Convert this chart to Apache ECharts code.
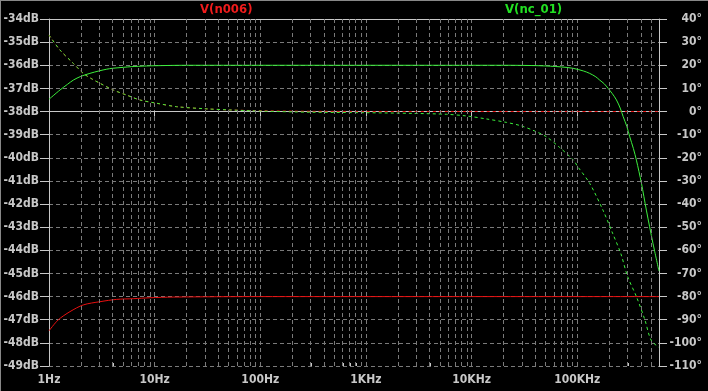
<!DOCTYPE html>
<html>
<head>
<meta charset="utf-8">
<script src="https://cdn.jsdelivr.net/npm/echarts@6/dist/echarts.min.js"></script>
<style>
html,body{margin:0;padding:0;background:#000;}
#chart{width:708px;height:391px;}
</style>
</head>
<body>
<div id="chart"></div>
<script>
// ---- data ----
const freqTickLabels = ['1Hz', '10Hz', '100Hz', '1KHz', '10KHz', '100KHz'];
const freqMin = 1;
const freqMax = 594000;
const gridMantissas = [2, 3, 4, 5, 6, 7, 8, 9];

const redMagFreq = [1, 1.22, 1.58, 2.11, 3.04, 4.37, 6.27, 9, 15, 100, 1000, 10000, 100000, 594000];
const redMagDb   = [-47.48, -47.01, -46.65, -46.36, -46.22, -46.12, -46.09, -46.05, -46.02, -46, -46, -46, -46, -46];

const redPhaseFreq = [1, 1.27, 1.7, 2.11, 2.5, 3.04, 4.06, 5.44, 7.26, 10.4, 16.1, 30, 51, 100, 300, 1000, 10000, 100000, 594000];
const redPhaseDeg  = [33.1, 26.6, 20.8, 16.5, 14.3, 12.2, 9.3, 7.1, 5.0, 3.6, 2.1, 1.2, 0.7, 0.35, 0.12, 0.04, 0, 0, 0];

const greenMagFreq = [1, 1.27, 1.5, 1.7, 2, 2.44, 3, 3.52, 4, 5.05, 6, 8.4, 10, 20, 100, 1000, 10000, 20000, 44200, 70000, 91000, 115000, 131000, 150000, 163000, 180000, 196000, 215000, 235000, 255000, 272000, 295000, 314000, 340000, 363000, 405000, 451000, 521000, 594000];
const greenMagDb   = [-37.47, -37.07, -36.82, -36.64, -36.48, -36.35, -36.24, -36.17, -36.13, -36.09, -36.06, -36.03, -36.02, -36.0, -36.0, -36.0, -36.0, -36.0, -36.02, -36.07, -36.13, -36.25, -36.35, -36.5, -36.64, -36.8, -37.0, -37.23, -37.5, -37.85, -38.22, -38.65, -39.09, -39.6, -40.1, -41.1, -42.26, -43.7, -44.9];

const greenPhaseFreq = [1, 1.27, 1.7, 2.11, 2.5, 3.04, 4.06, 5.44, 7.26, 10.4, 16.1, 30, 51, 100, 300, 1000, 2800, 5800, 8900, 13800, 21400, 29000, 39000, 51000, 68000, 92000, 101000, 131000, 175000, 216000, 258000, 300000, 363000, 437000, 500000, 594000];
const greenPhaseDeg  = [33.1, 26.6, 20.8, 16.5, 14.3, 12.2, 9.3, 7.1, 5.0, 3.6, 2.1, 1.2, 0.7, 0.2, -0.3, -0.5, -0.8, -1.2, -1.9, -3.2, -4.7, -6.1, -8.3, -10.9, -15.5, -21, -23.8, -31, -42.6, -52.6, -61.3, -71.4, -80, -90.1, -98.8, -102];

// ---- build ----
const pairs = (xs, ys) => xs.map((x, i) => [x, ys[i]]);
const minorFreqs = [];
for (let d = 0; d < freqTickLabels.length; d++) {
  gridMantissas.forEach(m => {
    const f = m * Math.pow(10, d);
    if (f < freqMax) minorFreqs.push(f);
  });
}

const AX = '#c8c8c8';
const GRID = '#7a7a7a';
const RED = '#e81010';
const GREEN = '#3cf03c';
const FONT = 'DejaVu Sans Condensed';
const labelStyle = { color: AX, fontFamily: FONT, fontWeight: 'bold', fontSize: 12 };

const chart = echarts.init(document.getElementById('chart'), null, { renderer: 'canvas' });
chart.setOption({
  backgroundColor: '#000',
  animation: false,
  grid: { left: 49, right: 49, top: 19, bottom: 25 },
  graphic: [
    { type: 'text', left: 200, top: 3, style: { text: 'V(n006)', fill: '#f01c1c', font: 'bold 13px "DejaVu Sans Condensed"', textAlign: 'center' } },
    { type: 'text', left: 505, top: 3, style: { text: 'V(nc_01)', fill: '#22e022', font: 'bold 13px "DejaVu Sans Condensed"', textAlign: 'center' } },
    { type: 'line', shape: { x1: 0, y1: 0.5, x2: 708, y2: 0.5 }, style: { stroke: '#888', lineWidth: 1 } },
    { type: 'line', shape: { x1: 0.5, y1: 0, x2: 0.5, y2: 391 }, style: { stroke: '#888', lineWidth: 1 } }
  ],
  xAxis: [{
    type: 'log', logBase: 10, min: freqMin, max: freqMax,
    axisLine: { show: true, lineStyle: { color: AX, width: 1 } },
    axisTick: { show: true, length: 5, lineStyle: { color: AX } },
    axisLabel: Object.assign({}, labelStyle, {
      margin: 8, showMaxLabel: false,
      formatter: v => {
        const l = Math.log10(v);
        const r = Math.round(l);
        return Math.abs(l - r) < 1e-6 && freqTickLabels[r] ? freqTickLabels[r] : '';
      }
    }),
    splitLine: { show: true, lineStyle: { color: GRID, type: [4, 3], width: 1 } }
  }, {
    type: 'log', logBase: 10, min: freqMin, max: freqMax, position: 'top',
    axisLine: { show: true, lineStyle: { color: AX, width: 1 } },
    axisTick: { show: false }, axisLabel: { show: false }, splitLine: { show: false }
  }],
  yAxis: [{
    type: 'value', min: -49, max: -34, interval: 1, position: 'left',
    axisLine: { show: true, lineStyle: { color: AX, width: 1 } },
    axisTick: { show: true, length: 9, lineStyle: { color: AX } },
    axisLabel: Object.assign({}, labelStyle, { margin: 10, formatter: v => v + 'dB' }),
    splitLine: { show: true, lineStyle: { color: GRID, type: [4, 3], width: 1 } }
  }, {
    type: 'value', min: -110, max: 40, interval: 10, position: 'right',
    axisLine: { show: true, lineStyle: { color: AX, width: 1 } },
    axisTick: { show: true, length: 8, lineStyle: { color: AX } },
    axisLabel: Object.assign({}, labelStyle, { margin: 43, align: 'right', formatter: v => v + '°' }),
    splitLine: { show: false }
  }],
  series: [
    {
      type: 'custom', xAxisIndex: 0, yAxisIndex: 0, silent: true, z: 1,
      data: minorFreqs.map(f => [f, -49]),
      renderItem: (params, api) => {
        const p = api.coord([api.value(0), api.value(1)]);
        const x = Math.round(p[0]) + 0.5;
        return { type: 'line', shape: { x1: x, y1: p[1], x2: x, y2: p[1] - 3 }, style: { stroke: AX, lineWidth: 1 } };
      },
      markLine: {
        silent: true, symbol: 'none', label: { show: false },
        lineStyle: { color: GRID, type: [4, 3], width: 1 },
        data: minorFreqs.map(f => ({ xAxis: f }))
      }
    },
    { name: 'V(n006) mag', type: 'line', yAxisIndex: 0, data: pairs(redMagFreq, redMagDb), showSymbol: false, smooth: 0.3, lineStyle: { color: RED, width: 1 }, z: 3 },
    { name: 'V(n006) phase', type: 'line', yAxisIndex: 1, data: pairs(redPhaseFreq, redPhaseDeg), showSymbol: false, smooth: 0.3, lineStyle: { color: RED, width: 1, type: [3, 3] }, z: 3 },
    { name: 'V(nc_01) mag', type: 'line', yAxisIndex: 0, data: pairs(greenMagFreq, greenMagDb), showSymbol: false, smooth: 0.3, lineStyle: { color: GREEN, width: 1 }, z: 4 },
    { name: 'V(nc_01) phase', type: 'line', yAxisIndex: 1, data: pairs(greenPhaseFreq, greenPhaseDeg), showSymbol: false, smooth: 0.3, lineStyle: { color: GREEN, width: 1, type: [3, 3] }, z: 4 }
  ]
});
</script>
</body>
</html>
